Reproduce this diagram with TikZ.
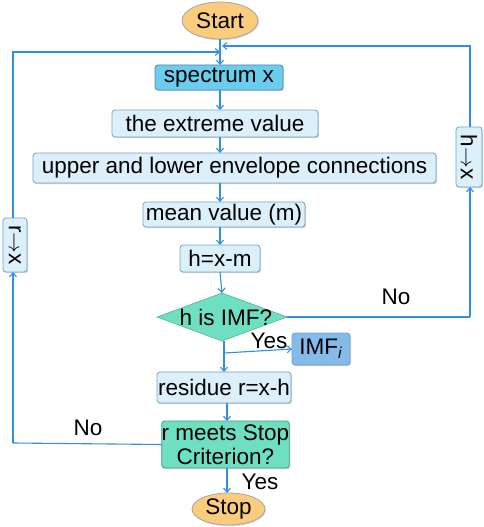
\documentclass[tikz,border=0pt]{standalone}
\usepackage{fontspec}
\setmainfont{Liberation Sans}
\usetikzlibrary{shapes.geometric,arrows.meta,shadows}
\definecolor{lnblue}{HTML}{2F8FE6}
\definecolor{boxfill}{HTML}{DCF0FB}
\definecolor{boxdraw}{HTML}{6FA6C9}
\definecolor{specfill}{HTML}{6ACDEE}
\definecolor{imffill}{HTML}{86BAEA}
\definecolor{tealfill}{HTML}{6EDFC0}
\definecolor{orangefill}{HTML}{FBCB7E}
\begin{document}
\begin{tikzpicture}[x=1pt,y=-1pt,
  font=\fontsize{22.5}{24}\selectfont,
  every node/.style={inner sep=0pt,outer sep=0pt},
  sbox/.style={draw=boxdraw,line width=0.8pt,fill=boxfill,rounded corners=3pt,
     drop shadow={shadow xshift=1pt,shadow yshift=-1.2pt,opacity=0.35}},
  term/.style={ellipse,draw=gray!70,line width=0.8pt,fill=orangefill,
     drop shadow={shadow xshift=1pt,shadow yshift=-1.2pt,opacity=0.3}},
  conn/.style={draw=lnblue,line width=1.1pt},
  arr/.style={conn,-{Straight Barb[length=4pt,width=7pt,line width=1.1pt]}},
  lbl/.style={font=\fontsize{22.5}{24}\selectfont}
]
\useasboundingbox (0,0) rectangle (484,527);

\node[term,minimum width=76pt,minimum height=37pt] (start) at (220,20.5) {Start};
\node[sbox,fill=specfill,draw=boxdraw!80!black,minimum width=128pt,minimum height=25pt] (spec) at (219,77.5) {spectrum x};
\node[sbox,minimum width=206pt,minimum height=27pt] (ext) at (215,123.5) {the extreme value};
\node[sbox,minimum width=403pt,minimum height=30pt] (env) at (234.5,168) {upper and lower envelope connections};
\node[sbox,minimum width=162pt,minimum height=25pt] (mean) at (224,214.5) {mean value (m)};
\node[sbox,minimum width=80pt,minimum height=27pt] (hbox) at (220,258.5) {h=x-m};
\node[diamond,draw=tealfill!80!black,line width=0.6pt,fill=tealfill,minimum width=130pt,minimum height=48pt] (dia) at (222,317) {};
\node at (226,317) {h is IMF?};
\node[sbox,fill=imffill,minimum width=58pt,minimum height=32pt] (imf) at (321,349) {IMF\textsubscript{\textit{i}}};
\node[sbox,minimum width=134pt,minimum height=31pt] (res) at (224,387.5) {residue r=x-h};
\node[sbox,fill=tealfill,draw=tealfill!70!black,minimum width=126pt,minimum height=47pt,align=center] (crit) at (225.5,444.5) {r meets Stop\\Criterion?};
\node[term,minimum width=73pt,minimum height=32pt] (stop) at (228.5,509) {Stop};
\node[sbox,minimum width=26pt,minimum height=60pt] (hx) at (469,157) {};
\node[rotate=-90] at (hx) {h$\rightarrow$x};
\node[sbox,minimum width=24pt,minimum height=54pt] (rx) at (15,245) {};
\node[rotate=-90] at (rx) {r$\rightarrow$x};

\coordinate (joinL) at (220,52);
\coordinate (joinR) at (222,46);
\coordinate (cornerR) at (470,317);
\coordinate (topR) at (470,46);
\coordinate (cornerL) at (13,443);
\coordinate (topL) at (13,52);
\coordinate (yesfork) at (224,353);

% main line
\draw[arr] (start.south) -- (start.south |- spec.north);
\draw[arr] (spec.south -| 220,0) -- (220,0 |- ext.north);
\draw[arr] (ext.south -| 220,0) -- (220,0 |- env.north);
\draw[arr] (env.south -| 220,0) -- (220,0 |- mean.north);
\draw[arr] (mean.south -| 220,0) -- (220,0 |- hbox.north);
\draw[arr] (hbox.south -| 220,0) -- (dia.north);
% yes branch
\draw[arr] (dia.south -| yesfork) -- (yesfork |- res.north);
\draw[arr] (yesfork) -- (imf.west);
\draw[arr] (res.south -| 227,0) -- (227,0 |- crit.north);
\draw[arr] (crit.south -| 227,0) -- (227,0 |- stop.north);
% right loop
\draw[conn] (dia.east) -- (cornerR);
\draw[arr] (cornerR) -- (cornerR |- hx.south);
\draw[arr] (cornerR |- hx.north) -- (topR) -- (joinR);
% left loop
\draw[conn] (crit.west) -- (cornerL);
\draw[arr] (cornerL) -- (cornerL |- rx.south);
\draw[arr] (cornerL |- rx.north) -- (topL) -- (joinL);

% labels
\node[lbl] (noR) at (396,297) {No};
\node[lbl] (yesA) at (269,341) {Yes};
\node[lbl] (noL) at (88,428) {No};
\node[lbl] (yesB) at (260,482) {Yes};
\end{tikzpicture}
\end{document}
